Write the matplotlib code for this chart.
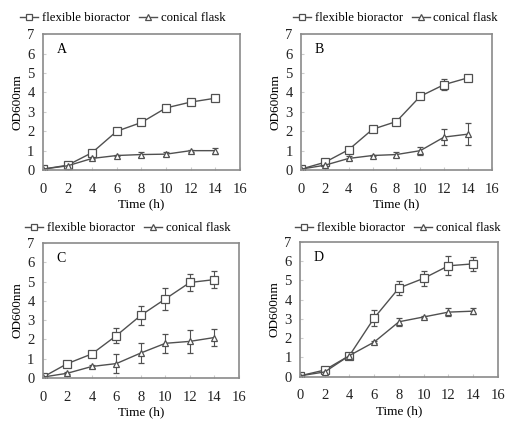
import matplotlib
matplotlib.use("Agg")
import matplotlib.pyplot as plt
from matplotlib.lines import Line2D

plt.rcParams["font.family"] = ["Liberation Serif", "DejaVu Serif"]
plt.rcParams["font.size"] = 9.5

# data (OD600 vs time)
time_h = [0, 2, 4, 6, 8, 10, 12, 14]

a_flex = [0.05, 0.25, 0.9, 2.0, 2.45, 3.2, 3.5, 3.7]
a_flex_err = [0.02, 0.03, 0.05, 0.05, 0.05, 0.05, 0.05, 0.05]
a_con = [0.05, 0.22, 0.6, 0.75, 0.8, 0.82, 1.0, 1.0]
a_con_err = [0.02, 0.03, 0.05, 0.05, 0.15, 0.1, 0.05, 0.15]

b_flex = [0.05, 0.4, 1.05, 2.1, 2.5, 3.8, 4.4, 4.75]
b_flex_err = [0.02, 0.05, 0.1, 0.1, 0.1, 0.15, 0.3, 0.1]
b_con = [0.05, 0.25, 0.6, 0.75, 0.8, 1.0, 1.7, 1.85]
b_con_err = [0.02, 0.05, 0.1, 0.05, 0.15, 0.2, 0.4, 0.55]

c_flex = [0.05, 0.75, 1.25, 2.2, 3.25, 4.1, 4.95, 5.1]
c_flex_err = [0.02, 0.1, 0.1, 0.4, 0.5, 0.55, 0.45, 0.45]
c_con = [0.05, 0.25, 0.6, 0.75, 1.3, 1.8, 1.9, 2.1]
c_con_err = [0.02, 0.05, 0.1, 0.5, 0.5, 0.5, 0.6, 0.45]

d_flex = [0.05, 0.35, 1.1, 3.05, 4.6, 5.1, 5.75, 5.85]
d_flex_err = [0.02, 0.1, 0.1, 0.4, 0.35, 0.4, 0.5, 0.35]
d_con = [0.05, 0.25, 1.1, 1.8, 2.85, 3.1, 3.35, 3.4]
d_con_err = [0.02, 0.05, 0.05, 0.05, 0.2, 0.05, 0.2, 0.15]

series_labels = ["flexible bioractor", "conical flask"]

panels = [
    ("A", a_flex, a_flex_err, a_con, a_con_err),
    ("B", b_flex, b_flex_err, b_con, b_con_err),
    ("C", c_flex, c_flex_err, c_con, c_con_err),
    ("D", d_flex, d_flex_err, d_con, d_con_err),
]

# axes rectangles in figure fraction (left, bottom, width, height)
AX_POS = [
    [0.085, 0.596, 0.390, 0.323],
    [0.596, 0.596, 0.378, 0.323],
    [0.085, 0.102, 0.388, 0.321],
    [0.594, 0.105, 0.392, 0.321],
]
# legend centers (x, y) in figure fraction
LEG_POS = [(0.243, 0.957), (0.783, 0.957), (0.253, 0.458), (0.788, 0.458)]

LINE_C = "#505050"
BOX_C = "#8a8a8a"
STYLE = dict(color=LINE_C, lw=1.0, mfc="white", mec=LINE_C, mew=0.9)

fig = plt.figure(figsize=(5.05, 4.21), dpi=100)

for (letter, flex, flex_err, con, con_err), pos, lpos in zip(panels, AX_POS, LEG_POS):
    ax = fig.add_axes(pos)
    ax.errorbar(time_h, flex, yerr=flex_err, marker="s", ms=5.5,
                ecolor=LINE_C, elinewidth=0.8, capsize=2.5, capthick=0.8, **STYLE)
    ax.errorbar(time_h, con, yerr=con_err, marker="^", ms=5,
                ecolor=LINE_C, elinewidth=0.8, capsize=2.5, capthick=0.8, **STYLE)
    ax.set_xlim(0, 16)
    ax.set_ylim(0, 7)
    ax.set_xticks(range(0, 17, 2))
    ax.set_yticks(range(0, 8))
    for sp in ax.spines.values():
        sp.set_color(BOX_C)
        sp.set_linewidth(1.2)
    ax.tick_params(axis="x", direction="in", length=2, color="#cccccc", pad=9,
                   labelcolor="#222222", labelsize=10.5)
    ax.tick_params(axis="y", direction="in", length=2, color="#cccccc", pad=6,
                   labelcolor="#222222", labelsize=10.5)
    ax.set_xlabel("Time (h)", labelpad=2)
    ax.set_ylabel("OD600nm", labelpad=3)
    ax.text(0.07, 0.86, letter, transform=ax.transAxes, fontsize=10)
    handles = [Line2D([], [], marker="s", ms=4.5, **STYLE),
               Line2D([], [], marker="^", ms=4.5, **STYLE)]
    fig.legend(handles, series_labels, loc="center",
               bbox_to_anchor=lpos, ncol=2, frameon=False, handlelength=1.4,
               handletextpad=0.3, columnspacing=0.7, borderpad=0, fontsize=9.2)

fig.savefig("out.png", dpi=100)
